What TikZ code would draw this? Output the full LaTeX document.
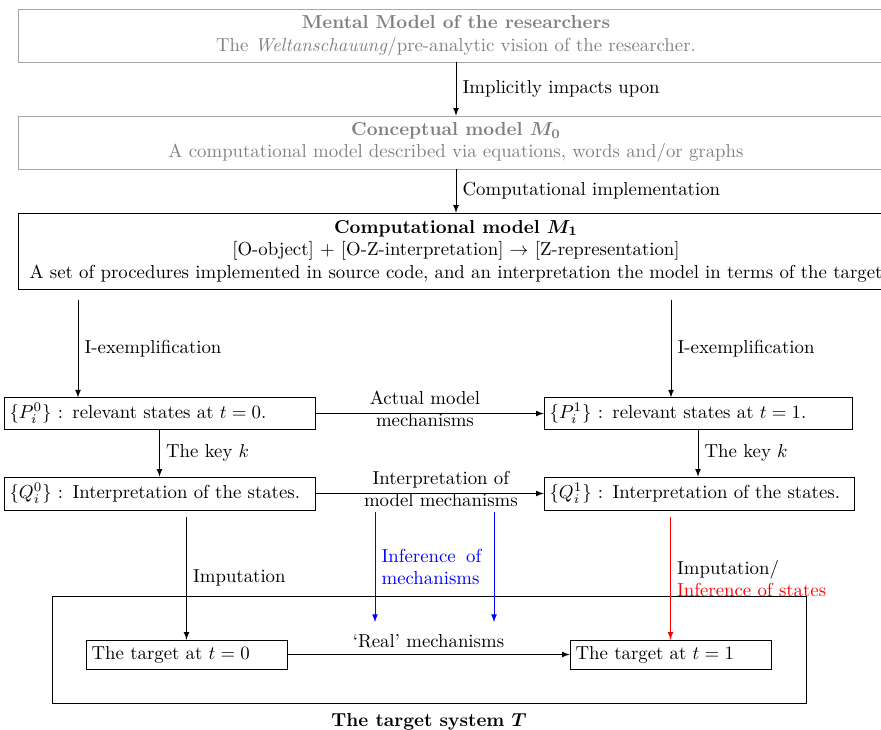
\documentclass[tikz,border=0pt]{standalone}
\usetikzlibrary{arrows,positioning}
\begin{document}
\begin{tikzpicture}[x=0.532pt, y=-0.532pt, >=latex,
  widebox/.style={draw, align=center, inner sep=0pt, minimum width=466pt},
  faded/.style={draw=black!35, text=black!50},
  statebox/.style={draw, align=left, inner sep=3pt},
  lbl/.style={midway, right, align=left},
  flow/.style={->}
]
\useasboundingbox (0,0) rectangle (881,729);

% upper chain of models
\node[widebox, faded, minimum height=28.2pt] (mental) at (456,35.5)
  {\textbf{Mental Model of the researchers}\\
   The \textit{Weltanschauung}/pre-analytic vision of the researcher.};
\node[widebox, faded, minimum height=28.2pt] (concept) at (456,142.5)
  {{\bfseries\boldmath Conceptual model $M_0$}\\
   A computational model described via equations, words and/or graphs};
\node[widebox, minimum height=40.4pt] (comp) at (456,251)
  {{\bfseries\boldmath Computational model $M_1$}\\
   {}[O-object] + [O-Z-interpretation] $\rightarrow$ [Z-representation]\\
   A set of procedures implemented in source code, and an interpretation the model in terms of the target};

\draw[flow] (mental.south) -- (concept.north) node[lbl] {Implicitly impacts upon};
\draw[flow] (concept.south) -- (comp.north) node[lbl] {Computational implementation};

% model states
\node[statebox, text width=159.5pt, minimum height=16.5pt] (P0) at (159.5,413.5)
  {$\{P_i^0\}$ : relevant states at $t=0$.};
\node[statebox, text width=157.9pt, minimum height=16.5pt] (P1) at (698,413.5)
  {$\{P_i^1\}$ : relevant states at $t=1$.};
\node[statebox, text width=159.5pt, minimum height=17.6pt] (Q0) at (159.5,493.5)
  {$\{Q_i^0\}$ : Interpretation of the states.};
\node[statebox, text width=159pt, minimum height=17.6pt] (Q1) at (699,493.5)
  {$\{Q_i^1\}$ : Interpretation of the states.};

\coordinate (e0) at (78,300);
\coordinate (e1) at (671,300);
\draw[flow] (e0) -- (e0 |- P0.north) node[lbl] {I-exemplification};
\draw[flow] (e1) -- (e1 |- P1.north) node[lbl] {I-exemplification};

\draw[flow] (P0.east) -- (P1.west)
  node[pos=0.48, align=center, yshift=2.5pt] {Actual model\\mechanisms};
\draw[flow] (Q0.east) -- (Q1.west)
  node[pos=0.55, align=center, yshift=2.5pt] {Interpretation of\\model mechanisms};

\draw[flow] (P0.south) -- (P0.south |- Q0.north) node[lbl] {The key $k$};
\draw[flow] (P1.south) -- (P1.south |- Q1.north) node[lbl] {The key $k$};

% target system
\node[draw, minimum width=401pt, minimum height=57pt, inner sep=0pt] (sys) at (429,649.5) {};
\node[anchor=north, yshift=-2pt] (sysname) at (sys.south)
  {{\bfseries\boldmath The target system $T$}};
\node[statebox, text width=100.9pt, minimum height=15.4pt] (t0) at (186.5,654.5)
  {The target at $t=0$};
\node[statebox, text width=100.9pt, minimum height=15.4pt] (t1) at (670.5,654.5)
  {The target at $t=1$};
\draw[flow] (t0.east) -- (t1.west) node[midway, above] {`Real' mechanisms};

% links from the model down to the target
\coordinate (i0) at (186.5,517);
\coordinate (i1) at (670.5,517);
\coordinate (b0s) at (375,512);
\coordinate (b0e) at (375,622);
\coordinate (b1s) at (494,512);
\coordinate (b1e) at (494,622);

\draw[flow] (i0) -- (t0.north) node[lbl] {Imputation};
\draw[flow, red] (i1) -- (t1.north)
  node[lbl, text=black] {Imputation/\\\textcolor{red}{Inference of states}};
\draw[flow, blue] (b0s) -- (b0e)
  node[midway, right, text width=53pt, align=justify, text=blue] {Inference of mechanisms};
\draw[flow, blue] (b1s) -- (b1e);
\end{tikzpicture}
\end{document}
